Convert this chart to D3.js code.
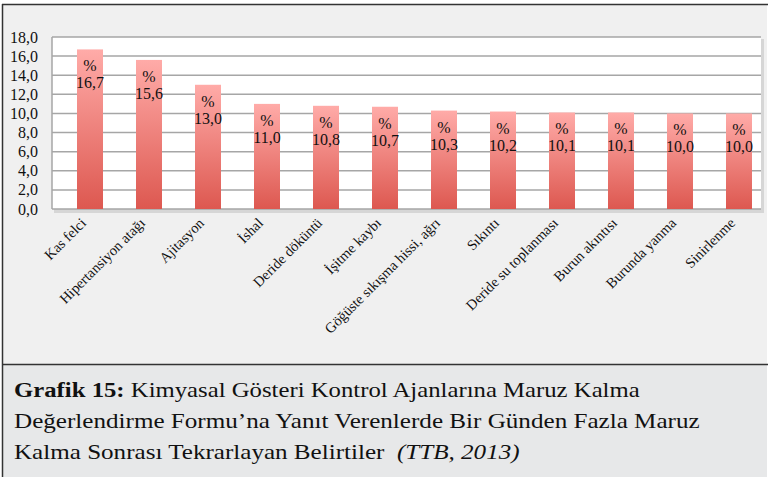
<!DOCTYPE html>
<html>
<head>
<meta charset="utf-8">
<script src="https://cdn.jsdelivr.net/npm/d3@7"></script>
<style>
  body { margin: 0; background: #fff; }
  svg { display: block; }
</style>
</head>
<body>
<div id="chart"></div>
<script>
const width = 768;
const height = 477;

const belirtiler = ['Kas felci', 'Hipertansiyon atağı', 'Ajitasyon', 'İshal', 'Deride döküntü',
  'İşitme kaybı', 'Göğüste sıkışma hissi, ağrı', 'Sıkıntı', 'Deride su toplanması',
  'Burun akıntısı', 'Burunda yanma', 'Sinirlenme'];
const yuzdeler = [16.7, 15.6, 13.0, 11.0, 10.8, 10.7, 10.3, 10.2, 10.1, 10.1, 10.0, 10.0];
const yTicks = [0, 2, 4, 6, 8, 10, 12, 14, 16, 18];
const baslikSatirlari = [
  ['Grafik 15:', ' Kimyasal Gösteri Kontrol Ajanlarına Maruz Kalma'],
  ['', 'Değerlendirme Formu’na Yanıt Verenlerde Bir Günden Fazla Maruz'],
  ['', 'Kalma Sonrası Tekrarlayan Belirtiler  ']
];

const fmt = v => d3.format('.1f')(v).replace('.', ',');
const serif = "'Liberation Serif', 'DejaVu Serif', serif";

const svg = d3.select('#chart').append('svg')
  .attr('width', width).attr('height', height);

const defs = svg.append('defs');
const grad = defs.append('linearGradient')
  .attr('id', 'barGrad').attr('x1', 0).attr('y1', 0).attr('x2', 0).attr('y2', 1);
grad.append('stop').attr('offset', '0%').attr('stop-color', '#ffaba8');
grad.append('stop').attr('offset', '100%').attr('stop-color', '#dd5850');

// background panels
svg.append('rect').attr('x', 0).attr('y', 0).attr('width', width).attr('height', height).attr('fill', '#fff');
svg.append('rect').attr('x', 2).attr('y', 4).attr('width', 765).attr('height', 360)
  .attr('fill', '#f0f0f0');
svg.append('rect').attr('x', 2).attr('y', 364).attr('width', 765).attr('height', 113)
  .attr('fill', '#e7e8e9');
svg.append('line').attr('x1', 2).attr('x2', 768).attr('y1', 4.5).attr('y2', 4.5)
  .attr('stroke', '#333').attr('stroke-width', 1.5);
svg.append('line').attr('x1', 2).attr('x2', 768).attr('y1', 364.5).attr('y2', 364.5)
  .attr('stroke', '#333').attr('stroke-width', 1.5);
svg.append('line').attr('x1', 2.5).attr('x2', 2.5).attr('y1', 4).attr('y2', 477)
  .attr('stroke', '#333').attr('stroke-width', 1.5);

const plotLeft = 52, plotRight = 761, plotTop = 37, plotBottom = 209;

const y = d3.scaleLinear().domain([0, 18]).range([plotBottom, plotTop]);
const x = d3.scalePoint().domain(belirtiler).range([90, 739]);
const barW = 26;

// plot area with soft shadow
svg.append('rect').attr('x', plotLeft + 2).attr('y', plotTop + 2)
  .attr('width', plotRight - plotLeft + 1).attr('height', plotBottom - plotTop + 2)
  .attr('fill', '#d6d6d6');
svg.append('rect').attr('x', plotLeft).attr('y', plotTop)
  .attr('width', plotRight - plotLeft).attr('height', plotBottom - plotTop)
  .attr('fill', '#fff');

// gridlines
svg.append('g').selectAll('line').data(yTicks).join('line')
  .attr('x1', plotLeft).attr('x2', plotRight)
  .attr('y1', d => y(d)).attr('y2', d => y(d))
  .attr('stroke', '#a6a6a6').attr('stroke-width', 1.5);

svg.append('line').attr('x1', plotLeft).attr('x2', plotLeft)
  .attr('y1', plotTop).attr('y2', plotBottom)
  .attr('stroke', '#a6a6a6').attr('stroke-width', 1.5);

// y axis labels
svg.append('g').selectAll('text').data(yTicks).join('text')
  .attr('x', 38).attr('y', d => y(d)).attr('dy', '0.35em')
  .attr('text-anchor', 'end')
  .attr('font-family', serif).attr('font-size', 16).attr('fill', '#111')
  .text(d => fmt(d));

// bars
const bars = svg.append('g').selectAll('g').data(belirtiler).join('g');
bars.append('rect')
  .attr('x', d => x(d) - barW / 2)
  .attr('y', (d, i) => y(yuzdeler[i]))
  .attr('width', barW)
  .attr('height', (d, i) => y(0) - y(yuzdeler[i]))
  .attr('fill', 'url(#barGrad)');

// data labels
bars.append('text')
  .attr('x', d => x(d)).attr('y', (d, i) => y(yuzdeler[i]) + 22)
  .attr('text-anchor', 'middle')
  .attr('font-family', serif).attr('font-size', 16).attr('fill', '#111')
  .text('%');
bars.append('text')
  .attr('x', d => x(d)).attr('y', (d, i) => y(yuzdeler[i]) + 39)
  .attr('text-anchor', 'middle')
  .attr('font-family', serif).attr('font-size', 16).attr('fill', '#111')
  .text((d, i) => fmt(yuzdeler[i]));

// x labels
svg.append('g').selectAll('text').data(belirtiler).join('text')
  .attr('transform', d => `translate(${x(d) - 3},${plotBottom + 15}) rotate(-45)`)
  .attr('text-anchor', 'end')
  .attr('font-family', serif).attr('font-size', 14.5).attr('fill', '#111')
  .text(d => d);

// caption, stretched horizontally to the reference line widths
const capWidths = [626, 686, 506];
const cap = svg.append('g').selectAll('text').data(baslikSatirlari).join('text')
  .attr('font-family', serif).attr('font-size', 21).attr('fill', '#111')
  .style('white-space', 'pre');
cap.append('tspan').attr('font-weight', 'bold').text(d => d[0]);
cap.append('tspan').text(d => d[1]);
cap.filter((d, i) => i === 2).append('tspan').attr('font-style', 'italic').text('(TTB, 2013)');
cap.each(function (d, i) {
  const w = this.getComputedTextLength();
  d3.select(this).attr('transform', `translate(14,${397 + i * 31}) scale(${capWidths[i] / w},1)`);
});
</script>
</body>
</html>
